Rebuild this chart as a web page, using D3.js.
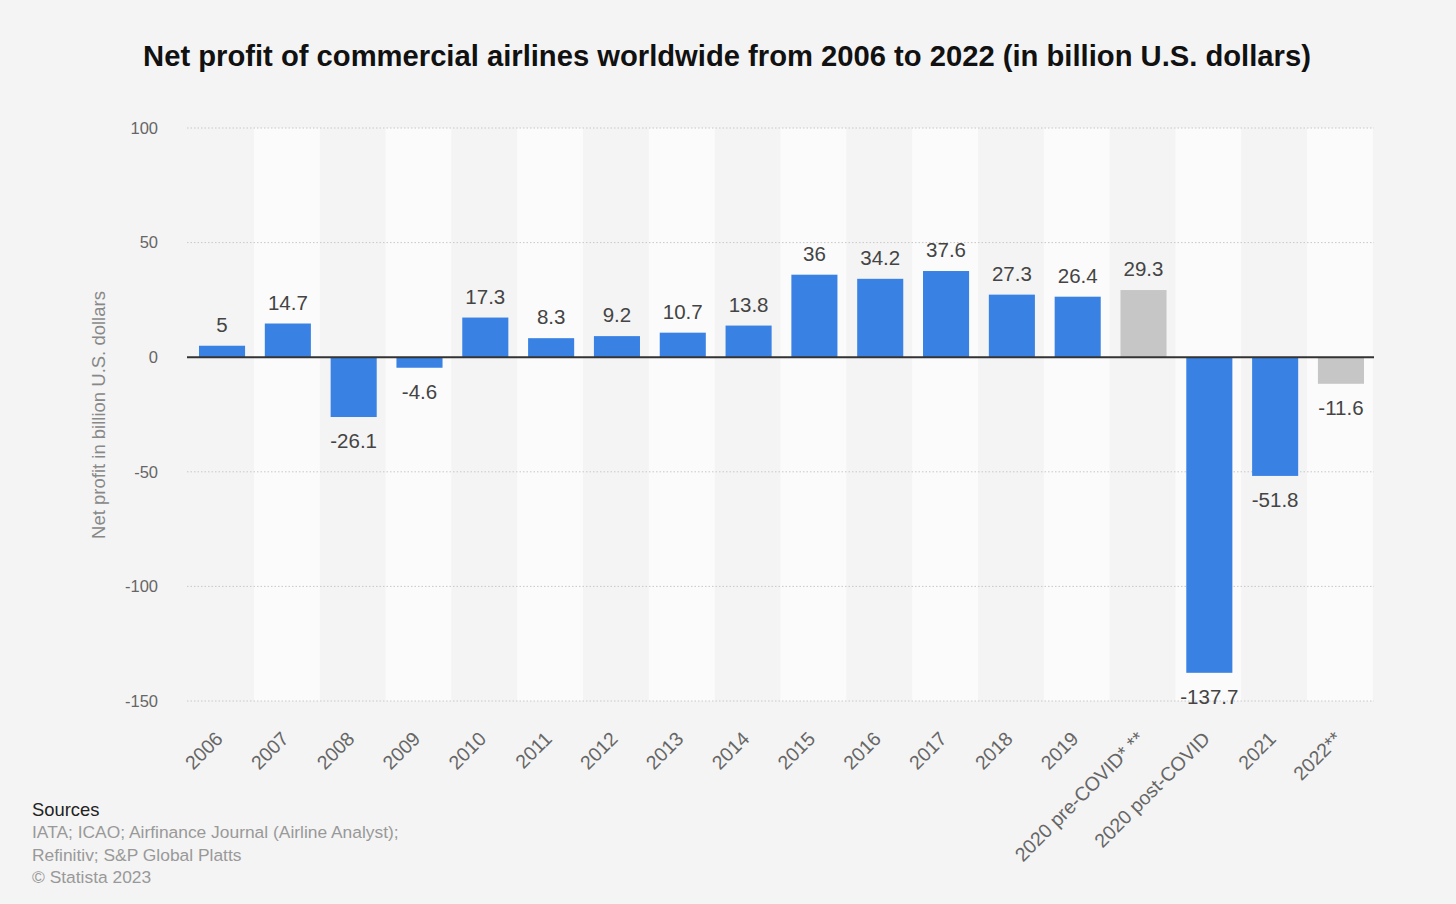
<!DOCTYPE html>
<html><head><meta charset="utf-8">
<script src="https://cdn.jsdelivr.net/npm/d3@7"></script>
<style>
html,body{margin:0;padding:0;background:#f4f4f4;}
svg{display:block;font-family:"Liberation Sans",Arial,Helvetica,sans-serif;}
</style></head>
<body>
<svg id="chart" width="1456" height="904"></svg>
<script>
const categories = ["2006","2007","2008","2009","2010","2011","2012","2013","2014","2015","2016","2017","2018","2019","2020 pre-COVID* **","2020 post-COVID","2021","2022**"];
const values = [5,14.7,-26.1,-4.6,17.3,8.3,9.2,10.7,13.8,36,34.2,37.6,27.3,26.4,29.3,-137.7,-51.8,-11.6];
const forecast = [false,false,false,false,false,false,false,false,false,false,false,false,false,false,true,false,false,true];
const yTicks = [100,50,0,-50,-100,-150];
const sources = ["IATA; ICAO; Airfinance Journal (Airline Analyst);","Refinitiv; S&P Global Platts","© Statista 2023"];

const svg = d3.select("#chart");
const left = 187, right = 1374;
const x = d3.scaleBand().domain(categories).range([188, 1375]).paddingInner(0.3).paddingOuter(0.167);
const y = d3.scaleLinear().domain([-150, 100]).range([701, 128]);

// title
svg.append("text").attr("x", 727).attr("y", 66).attr("text-anchor","middle")
  .attr("font-size", 29.2).attr("font-weight","bold").attr("fill","#111")
  .text("Net profit of commercial airlines worldwide from 2006 to 2022 (in billion U.S. dollars)");

// alternating bands
const step = x.step();
svg.append("g").selectAll("rect").data(categories.filter((d,i)=>i%2===1)).join("rect")
  .attr("x", d => x(d) - x.paddingInner()*step/2 - 1)
  .attr("width", step)
  .attr("y", y(100)).attr("height", y(-150)-y(100))
  .attr("fill", "#fbfbfb");

// grid
svg.append("g").selectAll("line").data(yTicks.filter(t=>t!==0)).join("line")
  .attr("x1", left).attr("x2", right)
  .attr("y1", d=>y(d)).attr("y2", d=>y(d))
  .attr("stroke", "#c8c8c8").attr("stroke-width",1).attr("stroke-dasharray","1.5,2");

// y axis ticks
const yAxis = d3.axisLeft(y).tickValues(yTicks).tickFormat(d=>String(d)).tickSize(0).tickPadding(0);
const ya = svg.append("g").attr("transform", `translate(${left-29},0)`).call(yAxis);
ya.select(".domain").remove();
ya.selectAll("text").attr("font-size", 16.5).attr("fill","#666").attr("font-family","Liberation Sans, Arial, sans-serif");

// y title
svg.append("text").attr("transform","translate(105,415) rotate(-90)").attr("text-anchor","middle")
  .attr("font-size",18.5).attr("fill","#888").text("Net profit in billion U.S. dollars");

// bars
svg.append("g").selectAll("rect").data(categories).join("rect")
  .attr("x", d=>x(d)).attr("width", x.bandwidth())
  .attr("y", (d,i)=> y(Math.max(0, values[i])))
  .attr("height", (d,i)=> Math.abs(y(values[i]) - y(0)))
  .attr("fill", (d,i)=> forecast[i] ? "#c6c6c6" : "#3982e4");

// zero line
svg.append("line").attr("x1", left).attr("x2", right).attr("y1", y(0)).attr("y2", y(0))
  .attr("stroke","#333").attr("stroke-width",2);

// value labels
svg.append("g").selectAll("text").data(categories).join("text")
  .attr("x", d=>x(d)+x.bandwidth()/2)
  .attr("y", (d,i)=> values[i] >= 0 ? y(values[i]) - 14 : y(values[i]) + 31)
  .attr("text-anchor","middle").attr("font-size",20.5).attr("fill","#444")
  .text((d,i)=> String(values[i]));

// x labels
const xa = d3.axisBottom(x).tickSize(0).tickPadding(0);
const xg = svg.append("g").attr("transform", `translate(0,${y(-150)})`).call(xa);
xg.select(".domain").remove();
xg.selectAll("text").attr("font-size",19.5).attr("fill","#666").attr("font-family","Liberation Sans, Arial, sans-serif")
  .attr("text-anchor","end").attr("dy",null)
  .attr("transform","translate(2,39) rotate(-45)");

// sources
svg.append("text").attr("x",32).attr("y",816).attr("font-size",18.4).attr("fill","#222").text("Sources");
svg.append("g").selectAll("text").data(sources).join("text")
  .attr("x",32).attr("y",(d,i)=>838+i*22.5).attr("font-size",17.4).attr("fill","#999").text(d=>d);
</script>
</body></html>
